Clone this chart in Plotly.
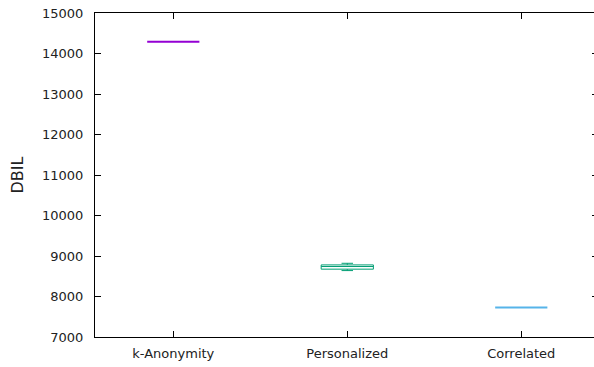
import plotly.graph_objects as go

categories = ["k-Anonymity", "Personalized", "Correlated"]
positions = [1, 2, 3]
lower = [14290, 8640, 7730]
q1 = [14290, 8675, 7730]
median = [14290, 8740, 7730]
q3 = [14290, 8780, 7730]
upper = [14290, 8820, 7730]
colors = ["#9400D3", "#009E73", "#56B4E9"]
line_widths = [2, 1, 2]
y_ticks = [7000, 8000, 9000, 10000, 11000, 12000, 13000, 14000, 15000]
y_labels = [str(v) for v in y_ticks]

fig = go.Figure()
for i, cat in enumerate(categories):
    fig.add_trace(go.Box(
        x=[positions[i]], q1=[q1[i]], median=[median[i]], q3=[q3[i]],
        lowerfence=[lower[i]], upperfence=[upper[i]],
        name=cat, width=0.3, whiskerwidth=0.22,
        line=dict(color=colors[i], width=line_widths[i]),
        fillcolor="rgba(255,255,255,0)", showlegend=False, boxpoints=False,
    ))

fig.update_layout(
    width=602, height=367,
    margin=dict(l=95, r=4, t=13, b=30),
    paper_bgcolor="white", plot_bgcolor="white",
    font=dict(family="DejaVu Sans", size=13, color="#222"),
    xaxis=dict(range=[0.55, 3.441], tickvals=positions, ticktext=categories,
               showline=True, mirror="ticks", linecolor="black", linewidth=1,
               ticks="inside", ticklen=6, tickcolor="black", showgrid=False, zeroline=False,
               automargin=False, ticklabelstandoff=4),
    yaxis=dict(range=[7000, 15000], tickvals=y_ticks, ticktext=y_labels, showline=True,
               mirror="ticks", linecolor="black", linewidth=1, ticks="inside", ticklen=6,
               tickcolor="black", showgrid=False, zeroline=False, automargin=False,
               ticklabelstandoff=8, ticklabeloverflow="allow",
               title=dict(text="DBIL", standoff=14)),
)
fig.write_html(
    "out.html",
    config={"displayModeBar": False},
    post_script="document.body.style.margin='0';document.body.style.overflow='hidden';",
)
